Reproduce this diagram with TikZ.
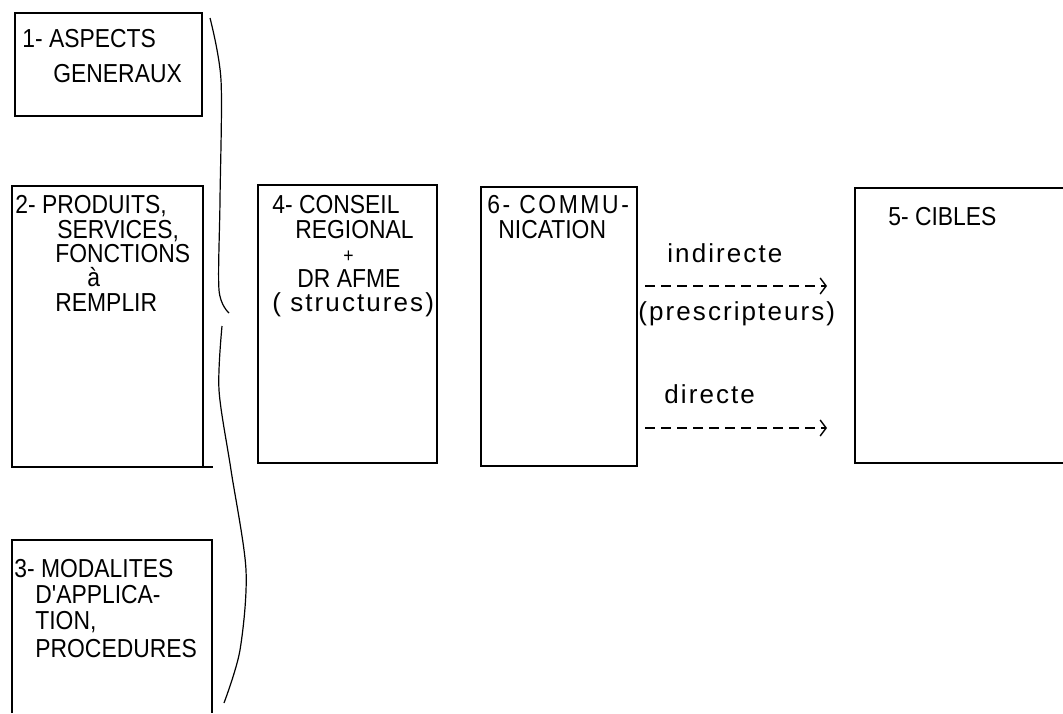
\documentclass[tikz,border=0pt]{standalone}
\usepackage{fontspec}
\setmainfont{Liberation Sans}
\newfontfamily\mayfont{Liberation Sans}[FakeStretch=0.88]
\newfontfamily\minfont{Liberation Sans}[LetterSpace=8]
\usetikzlibrary{arrows.meta}
\begin{document}
\begin{tikzpicture}[x=0.5pt,y=-0.5pt,
    caja/.style={line width=1pt},
    txt/.style={anchor=base west,inner sep=0pt,font=\mayfont\fontsize{13}{15}\selectfont},
    txtmin/.style={anchor=base west,inner sep=0pt,font=\minfont\fontsize{13}{15}\selectfont},
    flecha/.style={dash pattern=on 5pt off 3pt,line width=0.7pt,-{Straight Barb[length=3pt,width=8pt]}}]
    \useasboundingbox (0,0) rectangle (1063,713);
    % Cajas 1, 2, 3
    \draw[caja] (15,13) rectangle (202,116);
    \draw[caja] (12,186) rectangle (203,467) (203,467) -- (213,467);
    \draw[caja] (12,713) -- (12,540) -- (212,540) -- (212,713);
    % Cajas 4, 6, 5
    \draw[caja] (258,185) rectangle (437,463);
    \draw[caja] (481,187) rectangle (637,466);
    \draw[caja] (1063,188) -- (855,188) -- (855,463) -- (1063,463);
    % Llave
    \draw[line width=0.6pt] plot[smooth] coordinates {(210,18) (221,80) (220,200) (219,290) (229,313)};
    \draw[line width=0.6pt] plot[smooth] coordinates {(222,326) (219,390) (231,470) (246,570) (240,650) (224,703)};
    % Textos de las cajas
    \node[txt] (t1a) at (22,47) {1- ASPECTS};
    \node[txt] (t1b) at (53,82) {GENERAUX};
    \node[txt] (t2a) at (15,213) {2- PRODUITS,};
    \node[txt] (t2b) at (57,238) {SERVICES,};
    \node[txt] (t2c) at (55,262) {FONCTIONS};
    \node[txt] (t2d) at (87,286) {à};
    \node[txt] (t2e) at (55,311) {REMPLIR};
    \node[txt] (t3a) at (14,577) {3- MODALITES};
    \node[txt] (t3b) at (35,603) {D'APPLICA-};
    \node[txt] (t3c) at (35,629) {TION,};
    \node[txt] (t3d) at (35,657) {PROCEDURES};
    \node[txt] (t4a) at (272,213) {4- CONSEIL};
    \node[txt] (t4b) at (295,238) {REGIONAL};
    \node[txt,font=\mayfont\fontsize{10}{11}\selectfont] (t4c) at (343,262) {+};
    \node[txt] (t4d) at (297,287) {DR AFME};
    \node[txtmin] (t4e) at (272,311) {( structures)};
    \node[txt,font=\mayfont\fontsize{13}{15}\selectfont\addfontfeature{LetterSpace=10}] (t6a) at (487,213) {6- COMMU-};
    \node[txt] (t6b) at (498,238) {NICATION};
    \node[txt] (t5a) at (888,225) {5- CIBLES};
    % Flechas
    \coordinate (ind0) at (645,286);
    \coordinate (ind1) at (827,286);
    \coordinate (dir0) at (645,428);
    \coordinate (dir1) at (827,428);
    \node[txtmin] (lind) at (667,262) {indirecte};
    \node[txtmin] (lpre) at (638,320) {(prescripteurs)};
    \node[txtmin] (ldir) at (664,403) {directe};
    \draw[flecha] (ind0) -- (ind1);
    \draw[flecha] (dir0) -- (dir1);
\end{tikzpicture}
\end{document}
